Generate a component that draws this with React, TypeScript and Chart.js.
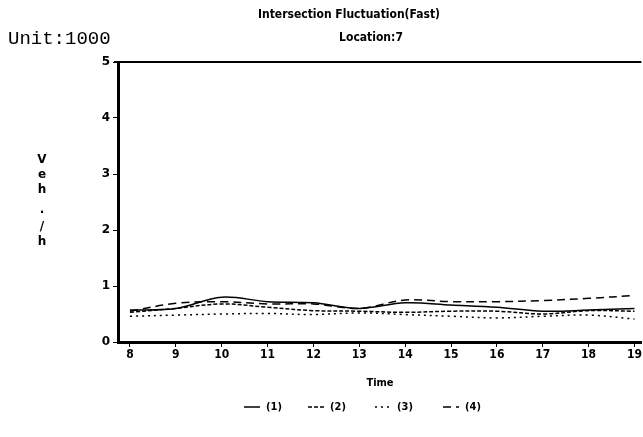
import React, { useEffect, useRef } from "react";
import { Chart, registerables } from "chart.js";

Chart.register(...registerables);

const hours = [8, 9, 10, 11, 12, 13, 14, 15, 16, 17, 18, 19];
const series1 = [0.57, 0.6, 0.8, 0.72, 0.7, 0.6, 0.7, 0.66, 0.62, 0.55, 0.57, 0.6];
const series2 = [0.53, 0.6, 0.68, 0.62, 0.56, 0.55, 0.53, 0.55, 0.55, 0.5, 0.56, 0.55];
const series3 = [0.46, 0.48, 0.5, 0.51, 0.49, 0.52, 0.49, 0.46, 0.43, 0.46, 0.48, 0.41];
const series4 = [0.55, 0.69, 0.72, 0.68, 0.68, 0.6, 0.75, 0.72, 0.72, 0.74, 0.78, 0.83];
const seriesNames = ["(1)", "(2)", "(3)", "(4)"];
const dashes: number[][] = [[], [4, 2], [2, 4], [8, 5]];
const titleText = "Intersection Fluctuation(Fast)";
const subtitleText = "Location:7";
const unitText = "Unit:1000";
const yTitleChars = ["V", "e", "h", ".", "/", "h"];
const xTitle = "Time";

const textPlugin = {
  id: "textPlugin",
  afterDraw(chart: any) {
    const ctx = chart.ctx;
    const area = chart.chartArea;
    ctx.save();
    ctx.fillStyle = "#000";
    ctx.textBaseline = "middle";
    ctx.textAlign = "center";
    ctx.font = "bold 12px 'DejaVu Sans Condensed', 'DejaVu Sans', sans-serif";
    ctx.fillText(titleText, 349, 15);
    ctx.fillText(subtitleText, 371, 38);
    ctx.textAlign = "left";
    ctx.font = "19px 'Liberation Mono', monospace";
    ctx.fillText(unitText, 8, 39);
    ctx.textAlign = "center";
    ctx.font = "bold 12px 'DejaVu Sans', sans-serif";
    const ys = [160, 175, 190, 210, 227, 242];
    yTitleChars.forEach((c, i) => ctx.fillText(c, 42, ys[i]));
    ctx.font = "bold 11px 'DejaVu Sans Condensed', 'DejaVu Sans', sans-serif";
    ctx.fillText(xTitle, 380, 383);
    // top border
    ctx.strokeStyle = "#000";
    ctx.lineWidth = 2;
    ctx.beginPath();
    ctx.moveTo(area.left - 4, area.top);
    ctx.lineTo(area.right, area.top);
    ctx.stroke();
    // legend
    const startXs = [244, 308, 375, 443];
    ctx.lineWidth = 1.5;
    ctx.textAlign = "left";
    ctx.font = "bold 11px 'DejaVu Sans Condensed', 'DejaVu Sans', sans-serif";
    seriesNames.forEach((n, i) => {
      const x = startXs[i];
      ctx.setLineDash(dashes[i]);
      ctx.beginPath();
      ctx.moveTo(x, 407);
      ctx.lineTo(x + 16, 407);
      ctx.stroke();
      ctx.setLineDash([]);
      ctx.fillText(n, x + 22, 407);
    });
    ctx.restore();
  },
};

export default function App() {
  const ref = useRef<HTMLCanvasElement>(null);
  useEffect(() => {
    if (!ref.current) return;
    const all = [series1, series2, series3, series4];
    const chart = new Chart(ref.current, {
      type: "line",
      data: {
        datasets: all.map((s, i) => ({
          label: seriesNames[i],
          data: s.map((v, j) => ({ x: hours[j], y: v })),
          borderColor: "#000",
          borderWidth: 1.5,
          borderDash: dashes[i],
          pointRadius: 0,
          tension: 0.35,
          fill: false,
        })),
      },
      options: {
        animation: false,
        responsive: false,
        layout: { padding: { left: 88, top: 62, bottom: 75, right: 0 } },
        plugins: { legend: { display: false }, title: { display: false }, tooltip: { enabled: false } },
        scales: {
          x: {
            type: "linear",
            min: 7.74,
            max: 19.15,
            afterBuildTicks: (s: any) => {
              s.ticks = hours.map((h) => ({ value: h }));
            },
            afterFit: (s: any) => {
              s.height = 20;
            },
            grid: { drawOnChartArea: false, tickLength: 5, color: "#000", lineWidth: 1 },
            border: { color: "#000", width: 3 },
            ticks: {
              color: "#000",
              padding: 1,
              maxRotation: 0,
              autoSkip: false,
              font: { family: "'DejaVu Sans Condensed', 'DejaVu Sans', sans-serif", size: 12, weight: "bold" },
              callback: (v: any) => String(v),
            },
          },
          y: {
            min: 0,
            max: 5,
            afterFit: (s: any) => {
              s.width = 30;
            },
            grid: { drawOnChartArea: false, tickLength: 5, color: "#000", lineWidth: 1 },
            border: { color: "#000", width: 3 },
            ticks: {
              stepSize: 1,
              color: "#000",
              padding: 3,
              font: { family: "'DejaVu Sans', sans-serif", size: 12, weight: "bold" },
            },
          },
        },
      },
      plugins: [textPlugin],
    });
    return () => chart.destroy();
  }, []);
  return (
    <div style={{ position: "fixed", left: 0, top: 0, width: 643, height: 437, background: "#fff" }}>
      <canvas ref={ref} width={643} height={437} style={{ width: 643, height: 437 }} />
    </div>
  );
}
